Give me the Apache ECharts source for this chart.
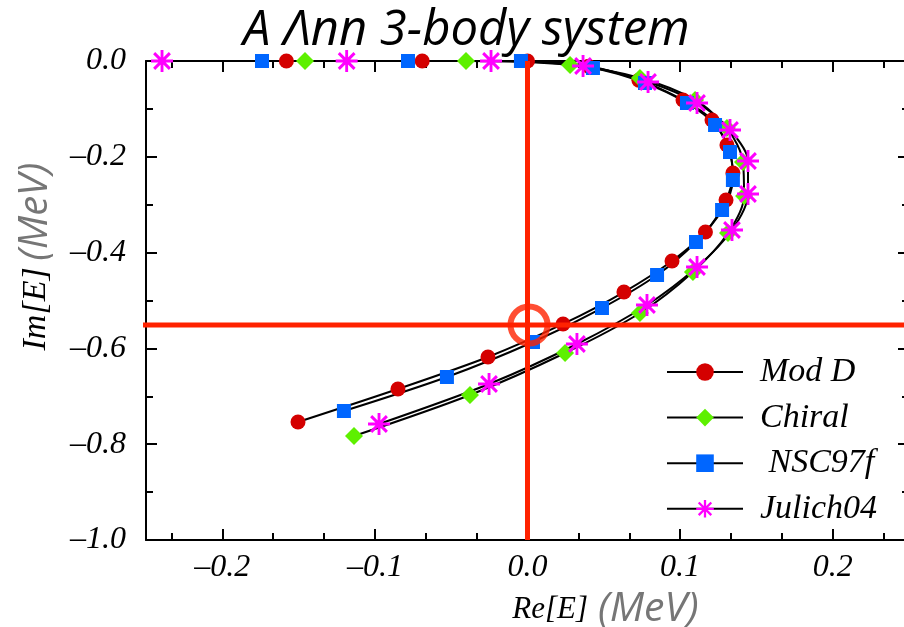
<!DOCTYPE html>
<html>
<head>
<meta charset="utf-8">
<script src="https://cdn.jsdelivr.net/npm/echarts@6/dist/echarts.min.js"></script>
<style>html, body { margin: 0; padding: 0; background: #fff; }</style>
</head>
<body>
<div id="ch" style="width: 904px; height: 627px;"></div>

<script>
var titleText = 'A Λnn 3-body system'
var seriesNames = ['Mod D', 'Chiral', 'NSC97f', 'Julich04']

// Re[E], Im[E] in MeV
var modDRe = [-0.158, -0.069, 0.0, 0.040, 0.073, 0.1019, 0.1209, 0.1307, 0.1346, 0.1301, 0.1166, 0.0947, 0.0632, 0.0233, -0.0259, -0.0849, -0.1504]
var modDIm = [0, 0, 0, -0.011, -0.040, -0.0814, -0.1232, -0.1754, -0.2338, -0.2902, -0.357, -0.4175, -0.4823, -0.549, -0.618, -0.6848, -0.7537]

var chiralRe = [-0.1458, -0.0403, 0.0279, 0.0737, 0.1098, 0.1307, 0.1412, 0.1419, 0.1314, 0.1084, 0.0737, 0.0246, -0.0377, -0.1137]
var chiralIm = [0, 0, -0.0084, -0.0355, -0.0814, -0.1399, -0.2109, -0.2818, -0.3591, -0.4405, -0.5261, -0.6096, -0.6973, -0.7829]

var nscRe = [-0.174, -0.0783, -0.0043, 0.0429, 0.077, 0.1045, 0.1229, 0.1327, 0.1346, 0.1275, 0.1104, 0.0849, 0.0488, 0.0036, -0.0528, -0.1203]
var nscIm = [0, 0, 0, -0.0146, -0.0459, -0.0877, -0.1336, -0.19, -0.2484, -0.3111, -0.3779, -0.4468, -0.5157, -0.5866, -0.6597, -0.7307]

var julichRe = [-0.2395, -0.1185, -0.0239, 0.0364, 0.079, 0.1111, 0.1327, 0.1445, 0.1445, 0.134, 0.1111, 0.0783, 0.0324, -0.0252, -0.0973]
var julichIm = [0, 0, 0, -0.0104, -0.0438, -0.0877, -0.144, -0.2088, -0.2777, -0.3528, -0.4301, -0.5094, -0.5908, -0.6743, -0.7578]

// red guide lines and the circled point
var vLineRe = [0, 0]
var vLineIm = [0, -1]
var hLineRe = [-0.305, 0.25]
var hLineIm = [-0.551, -0.551]
var markRe = [0.001]
var markIm = [-0.551]

var xMajor = [-0.2, -0.1, 0, 0.1, 0.2]
var xMinor = [-0.2333, -0.1667, -0.1333, -0.0667, -0.0333, 0.0333, 0.0667, 0.1333, 0.1667, 0.2333]

function pairs(xs, ys) {
    return xs.map(function(x, i) { return [x, ys[i]] })
}
function fmt(v) {
    if (Math.abs(v) < 1e-9) return '0.0'
    return (v < 0 ? '\u2013' : '') + Math.abs(v).toFixed(1)
}

var serif = '"Liberation Serif", "Times New Roman", serif'
var sans = '"Open Sans", sans-serif'
// asterisk marker
var starPath = 'path://M8.7,0L11.3,0L11.3,20L8.7,20Z M0,8.7L20,8.7L20,11.3L0,11.3Z M3.8,1.9L18.1,16.2L16.2,18.1L1.9,3.8Z M16.2,1.9L18.1,3.8L3.8,18.1L1.9,16.2Z'

var axLine = { onZero: false, lineStyle: { color: '#000', width: 2 } }
var tickStyle = { color: '#000', width: 2 }

function xAx(pos, ticks, len, withLine, withLabel) {
    var a = {
        type: 'value', position: pos, min: -0.25, max: 0.25,
        axisLine: withLine ? axLine : { show: false, onZero: false },
        axisTick: { inside: true, length: len, lineStyle: tickStyle, customValues: ticks },
        axisLabel: { show: false },
        splitLine: { show: false }
    }
    if (withLabel) {
        a.axisLabel = {
            customValues: xMajor, formatter: fmt, color: '#000',
            fontFamily: serif, fontStyle: 'italic', fontSize: 32, margin: 12
        }
        a.name = '{a|Re[E]}   {b|(MeV)}'
        a.nameLocation = 'middle'
        a.nameGap = 43
        a.nameTextStyle = {
            rich: {
                a: { fontFamily: serif, fontStyle: 'italic', fontSize: 31, color: '#000', padding: [0, 0, 0, 156] },
                b: { fontFamily: sans, fontStyle: 'italic', fontSize: 41, color: '#767676' }
            }
        }
    }
    return a
}
function yAx(pos, withLabel) {
    var a = {
        type: 'value', position: pos, min: -1, max: 0, interval: 0.2,
        axisLine: axLine,
        axisTick: { inside: true, length: 11, lineStyle: tickStyle },
        minorTick: { show: true, splitNumber: 2, length: 7, lineStyle: tickStyle },
        axisLabel: { show: false },
        splitLine: { show: false },
        minorSplitLine: { show: false }
    }
    if (withLabel) {
        a.axisLabel = {
            formatter: fmt, color: '#000',
            fontFamily: serif, fontStyle: 'italic', fontSize: 32, margin: 20
        }
        a.name = '{a|Im[E]}  {b|(MeV)}'
        a.nameLocation = 'middle'
        a.nameRotate = 90
        a.nameGap = 90
        a.nameTextStyle = {
            rich: {
                a: { fontFamily: serif, fontStyle: 'italic', fontSize: 34, color: '#000', padding: [0, 0, 0, 88] },
                b: { fontFamily: sans, fontStyle: 'italic', fontSize: 40, color: '#767676' }
            }
        }
    }
    return a
}

function curve(name, xs, ys, symbol, size, color) {
    return {
        name: name, type: 'line', data: pairs(xs, ys),
        smooth: 0.3, symbol: symbol, symbolSize: size, showAllSymbol: true,
        itemStyle: { color: color },
        lineStyle: { color: '#000', width: 2 },
        z: 2
    }
}

var chartInst = echarts.init(document.getElementById('ch'))
chartInst.setOption({
    animation: false,
    backgroundColor: '#fff',
    title: {
        text: titleText, left: 238, top: 2,
        textStyle: { fontFamily: sans, fontStyle: 'italic', fontWeight: 'normal', fontSize: 49, color: '#000' }
    },
    grid: { left: 146, right: -5, top: 61, bottom: 87, outerBoundsMode: 'none', containLabel: false },
    legend: {
        data: seriesNames, orient: 'vertical', left: 661, top: 349,
        itemWidth: 76, itemHeight: 22, itemGap: 9.6,
        formatter: function(n) { return n === 'NSC97f' ? ' ' + n : n },
        textStyle: { fontFamily: serif, fontStyle: 'italic', fontSize: 34, color: '#000', lineHeight: 36, padding: [0, 0, 0, 12] }
    },
    xAxis: [
        xAx('bottom', xMajor, 11, true, true),
        xAx('bottom', xMinor, 7, false, false),
        xAx('top', xMajor, 11, true, false),
        xAx('top', xMinor, 7, false, false)
    ],
    yAxis: [yAx('left', true), yAx('right', false)],
    series: [
        curve('Mod D', modDRe, modDIm, 'circle', 15, '#d40000'),
        curve('Chiral', chiralRe, chiralIm, 'diamond', 18, '#5ef000'),
        curve('NSC97f', nscRe, nscIm, 'rect', 14, '#0066ff'),
        curve('Julich04', julichRe, julichIm, starPath, 22, '#ff00ff'),
        {
            type: 'line', data: pairs(vLineRe, vLineIm), symbol: 'none', silent: true,
            lineStyle: { color: '#ff2200', width: 5 }, z: 3
        },
        {
            type: 'line', data: pairs(hLineRe, hLineIm), symbol: 'none', silent: true, clip: false,
            lineStyle: { color: '#ff2200', width: 5 }, z: 3
        },
        {
            type: 'scatter', data: pairs(markRe, markIm), symbol: 'circle', symbolSize: 37, silent: true,
            itemStyle: { color: 'rgba(0,0,0,0)', borderColor: '#ff2200', borderWidth: 6 }, z: 4
        }
    ]
})
</script>
</body>
</html>
